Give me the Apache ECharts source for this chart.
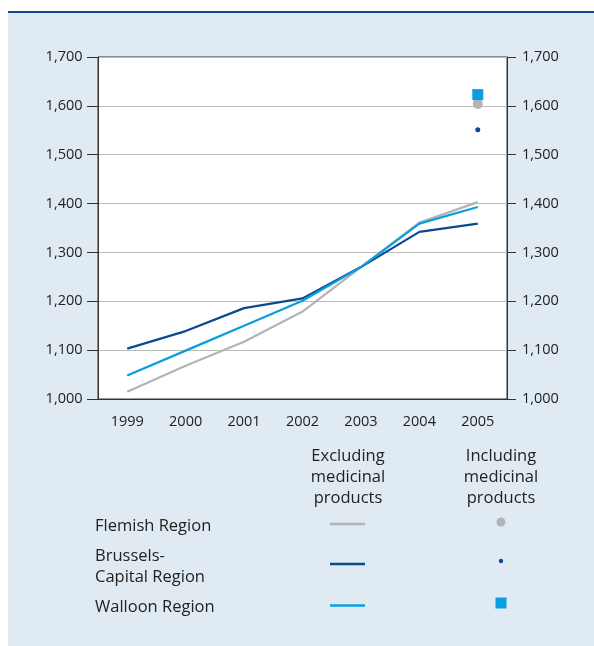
<!DOCTYPE html>
<html>
<head>
<meta charset="utf-8">
<script src="https://cdn.jsdelivr.net/npm/echarts@6/dist/echarts.min.js"></script>
<style>
  html, body { margin: 0; padding: 0; background: #fff; }
  #chart { width: 594px; height: 646px; }
</style>
</head>
<body>
<div id="chart"></div>
<script>
// values
const years = ['1999', '2000', '2001', '2002', '2003', '2004', '2005'];
const flemish = [1015, 1068, 1117, 1179, 1270, 1361, 1403];
const brussels = [1103, 1139, 1186, 1206, 1270, 1342, 1359];
const walloon = [1048, 1099, 1150, 1201, 1270, 1359, 1393];

// 2005 values including medicinal products
const flemishIncl = 1604;
const brusselsIncl = 1551;
const walloonIncl = 1623;

const yTicks = { min: 1000, max: 1700, interval: 100 };

const GRAY = '#b4b4b4';
const DARK = '#0b4a8e';
const LIGHT = '#0a9ee0';
const TXT = '#222';
const FONT = '"Open Sans", sans-serif';

const chart = echarts.init(document.getElementById('chart'));

function fmt(v) {
  return v.toLocaleString('en-US');
}

function yAxis(pos) {
  return {
    type: 'value',
    position: pos,
    min: yTicks.min,
    max: yTicks.max,
    interval: yTicks.interval,
    axisLine: { show: true, lineStyle: { color: '#333', width: 1 } },
    axisTick: { show: true, length: pos === 'left' ? 11 : 9, lineStyle: { color: '#333' } },
    axisLabel: {
      margin: pos === 'left' ? 15.5 : 15,
      color: TXT, fontSize: 14.5, fontFamily: FONT,
      formatter: fmt
    },
    splitLine: { show: pos === 'left', lineStyle: { color: '#bcbcbc', width: 1 } }
  };
}

function lineSeries(name, data, color) {
  return {
    name: name, type: 'line', data: data,
    showSymbol: false, symbol: 'none',
    lineStyle: { color: color, width: 2.2 },
    z: 3
  };
}

function dotSeries(name, value, symbol, size, color) {
  return {
    name: name, type: 'scatter',
    data: [[years[years.length - 1], value]],
    symbol: symbol, symbolSize: size,
    itemStyle: { color: color, opacity: 1 },
    z: 4
  };
}

// legend drawn as plain graphics, laid out like the source
const LF = '16.5px ' + FONT;
const legendGraphics = [
  { type: 'rect', shape: { x: 8, y: 13, width: 600, height: 640 }, style: { fill: '#e0eaf2' }, z: -10 },
  { type: 'line', shape: { x1: 8, y1: 12, x2: 594, y2: 12 }, style: { stroke: DARK, lineWidth: 2 }, z: -9 },
  { type: 'text', x: 348, y: 446, style: { text: 'Excluding\nmedicinal\nproducts', fill: TXT, font: LF, align: 'center', lineHeight: 21 } },
  { type: 'text', x: 501, y: 446, style: { text: 'Including\nmedicinal\nproducts', fill: TXT, font: LF, align: 'center', lineHeight: 21 } },
  { type: 'text', x: 95, y: 518, style: { text: 'Flemish Region', fill: TXT, font: LF } },
  { type: 'text', x: 95, y: 546, style: { text: 'Brussels-\nCapital Region', fill: TXT, font: LF, lineHeight: 21 } },
  { type: 'text', x: 95, y: 599, style: { text: 'Walloon Region', fill: TXT, font: LF } },
  { type: 'line', shape: { x1: 330, y1: 524, x2: 365, y2: 524 }, style: { stroke: GRAY, lineWidth: 2.5 } },
  { type: 'line', shape: { x1: 330, y1: 564, x2: 365, y2: 564 }, style: { stroke: DARK, lineWidth: 2.5 } },
  { type: 'line', shape: { x1: 330, y1: 605.5, x2: 365, y2: 605.5 }, style: { stroke: LIGHT, lineWidth: 2.5 } },
  { type: 'circle', shape: { cx: 501, cy: 522, r: 4.5 }, style: { fill: GRAY } },
  { type: 'circle', shape: { cx: 501, cy: 561, r: 2.2 }, style: { fill: DARK } },
  { type: 'rect', shape: { x: 495.5, y: 597.5, width: 11, height: 11 }, style: { fill: LIGHT } }
];

const option = {
  animation: false,
  grid: {
    left: 98, right: 87, top: 57, bottom: 247,
    show: true, backgroundColor: '#fff', borderColor: '#333', borderWidth: 1
  },
  xAxis: {
    type: 'category',
    data: years,
    boundaryGap: true,
    axisLine: { lineStyle: { color: '#333', width: 1 } },
    axisTick: { inside: true, length: 8, lineStyle: { color: '#333' } },
    axisLabel: { margin: 15, color: TXT, fontSize: 14.5, fontFamily: FONT }
  },
  yAxis: [yAxis('left'), yAxis('right')],
  series: [
    lineSeries('Flemish Region', flemish, GRAY),
    lineSeries('Brussels-Capital Region', brussels, DARK),
    lineSeries('Walloon Region', walloon, LIGHT),
    dotSeries('Flemish Region incl.', flemishIncl, 'circle', 10, GRAY),
    dotSeries('Brussels-Capital Region incl.', brusselsIncl, 'circle', 5, DARK),
    dotSeries('Walloon Region incl.', walloonIncl, 'rect', 11, LIGHT)
  ],
  graphic: legendGraphics
};

chart.setOption(option);
</script>
</body>
</html>
